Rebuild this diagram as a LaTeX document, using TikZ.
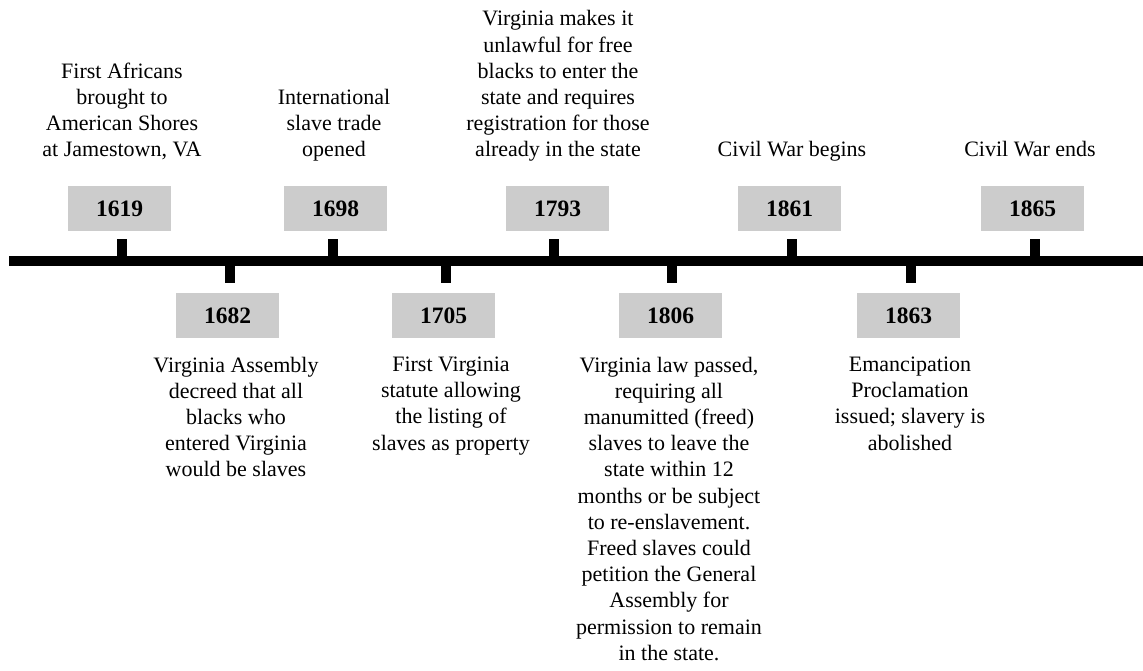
\documentclass[tikz,border=0pt]{standalone}
\usepackage{fontspec}
\setmainfont{Liberation Serif}
\usepackage{tikz}
\usetikzlibrary{positioning}

\begin{document}
\begin{tikzpicture}[x=1pt, y=-1pt,
    year/.style={fill=black!20, minimum width=103pt, minimum height=45pt, inner sep=0pt,
      font=\fontsize{23.5}{28}\selectfont\bfseries},
    note/.style={align=center, inner sep=0pt, font=\fontsize{22}{26.2}\selectfont},
    upnote/.style={note, anchor=south, execute at end node=\strut},
    downnote/.style={note, anchor=north, execute at begin node=\strut},
    tickmark/.style={line width=10pt}]
   \useasboundingbox (0,0) rectangle (1143,670);

   % the time axis
   \draw[tickmark] (9,261) -- (1143,261);

   % ticks above and below the axis
   \draw[tickmark] (122,239) -- (122,261);
   \draw[tickmark] (333,239) -- (333,261);
   \draw[tickmark] (554,239) -- (554,261);
   \draw[tickmark] (792,239) -- (792,261);
   \draw[tickmark] (1035,239) -- (1035,261);
   \draw[tickmark] (230,261) -- (230,283);
   \draw[tickmark] (446,261) -- (446,283);
   \draw[tickmark] (672,261) -- (672,283);
   \draw[tickmark] (911,261) -- (911,283);

   % years above
   \node[year] (y1619) at (119.5,208.5) {1619};
   \node[year] (y1698) at (335.5,208.5) {1698};
   \node[year] (y1793) at (557.5,208.5) {1793};
   \node[year] (y1861) at (789.5,208.5) {1861};
   \node[year] (y1865) at (1032.5,208.5) {1865};

   % years below
   \node[year] (y1682) at (227.5,315.5) {1682};
   \node[year] (y1705) at (443.5,315.5) {1705};
   \node[year] (y1806) at (670.5,315.5) {1806};
   \node[year] (y1863) at (908.5,315.5) {1863};

   % events above
   \node[upnote] (e1619) at (122,164.9) {First Africans\\ brought to\\ American Shores\\ at Jamestown, VA};
   \node[upnote] (e1698) at (334,164.9) {International\\ slave trade\\ opened};
   \node[upnote] (e1793) at (558,164.9) {Virginia makes it\\ unlawful for free\\ blacks to enter the\\ state and requires\\ registration for those\\ already in the state};
   \node[upnote] (e1861) at (792,164.9) {Civil War begins};
   \node[upnote] (e1865) at (1030,164.9) {Civil War ends};

   % events below
   \node[downnote] (e1682) at (236,356.7) {Virginia Assembly\\ decreed that all\\ blacks who\\ entered Virginia\\ would be slaves};
   \node[downnote] (e1705) at (451,356.7) {First Virginia\\ statute allowing\\ the listing of\\ slaves as property};
   \node[downnote] (e1806) at (669,356.7) {Virginia law passed,\\ requiring all\\ manumitted (freed)\\ slaves to leave the\\ state within 12\\ months or be subject\\ to re-enslavement.\\ Freed slaves could\\ petition the General\\ Assembly for\\ permission to remain\\ in the state.};
   \node[downnote] (e1863) at (910,356.7) {Emancipation\\ Proclamation\\ issued; slavery is\\ abolished};
\end{tikzpicture}
\end{document}
